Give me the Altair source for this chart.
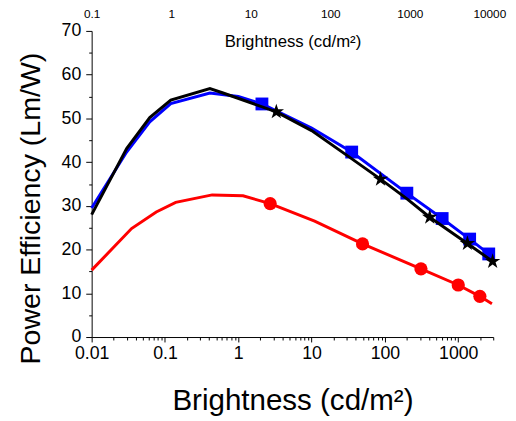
import altair as alt
import pandas as pd

# ---- data ----
blue_x = [0.01, 0.03, 0.062, 0.12, 0.41, 1.0, 2.1, 10, 35.2, 199, 603, 1430, 2605, 2950]
blue_y = [29.5, 42.3, 49.2, 53.4, 55.8, 55.0, 53.3, 47.8, 42.3, 32.9, 27.1, 22.4, 19.0, 18.3]
blue_mx = [2.1, 35.2, 199, 603, 1430, 2605]
blue_my = [53.3, 42.3, 32.9, 27.1, 22.4, 19.0]

black_x = [0.01, 0.03, 0.062, 0.12, 0.41, 0.62, 3.3, 10, 30, 87, 200, 408, 1333, 2944]
black_y = [28.0, 43.1, 50.2, 54.2, 56.8, 55.8, 51.5, 47.2, 41.6, 36.1, 31.6, 27.4, 21.4, 17.3]
black_mx = [3.3, 87, 408, 1333, 2944]
black_my = [51.5, 36.1, 27.4, 21.4, 17.3]

red_x = [0.01, 0.035, 0.076, 0.14, 0.44, 1.16, 2.72, 11, 49.5, 310, 1000, 1972, 2880]
red_y = [15.3, 24.8, 28.6, 30.8, 32.5, 32.3, 30.5, 26.5, 21.3, 15.6, 11.9, 9.3, 7.6]
red_mx = [2.72, 49.5, 310, 1000, 1972]
red_my = [30.5, 21.3, 15.6, 11.9, 9.3]

x_major = [0.01, 0.1, 1, 10, 100, 1000]
x_domain = [0.01, 3000]
y_domain = [0, 70]
y_ticks = list(range(0, 71, 5))
top_ticks = [0.1, 1, 10, 100, 1000, 10000]
top_domain = [0.1, 11200]

x_ticks = [m * k for m in x_major for k in range(1, 10) if m * k <= 3000 * 1.0000001]

FONT = "Liberation Sans"
STAR = ("M0,-1L0.2245,-0.309L0.951,-0.309L0.363,0.118L0.588,0.809L0,0.382"
        "L-0.588,0.809L-0.363,0.118L-0.951,-0.309L-0.2245,-0.309Z")

MAJ = "abs(log(datum.value)/LN10 - round(log(datum.value)/LN10)) < 1e-6"


def df(xs, ys):
    return pd.DataFrame({"x": xs, "y": ys})


x_enc = alt.X(
    "x:Q",
    scale=alt.Scale(type="log", domain=x_domain, nice=False),
    axis=alt.Axis(
        values=x_ticks, format="~g",
        labelExpr=f"({MAJ}) ? datum.label : ''",
        tickSize={"condition": {"test": MAJ, "value": 5}, "value": 3},
        labelFontSize=18, labelPadding=3, labelFlush=False, labelOverlap=False,
        title="Brightness (cd/m²)", titleFontSize=30, titleFontWeight="normal",
        titleY=74, titleBaseline="alphabetic", grid=False,
    ),
)
y_enc = alt.Y(
    "y:Q",
    scale=alt.Scale(domain=y_domain, nice=False, zero=False),
    axis=alt.Axis(
        values=y_ticks,
        labelExpr="datum.value % 10 === 0 ? datum.label : ''",
        tickSize={"condition": {"test": "datum.value % 10 === 0", "value": 6}, "value": 3},
        labelFontSize=18, labelPadding=5, labelOverlap=False, labelFlush=False,
        title="Power Efficiency (Lm/W)", titleFontSize=29, titleFontWeight="normal",
        titleAngle=-90, titleX=-53, titleY=180, titleAlign="center",
        titleBaseline="alphabetic", grid=False,
    ),
)


def line(xs, ys, color):
    return alt.Chart(df(xs, ys)).mark_line(
        color=color, strokeWidth=3, interpolate="linear"
    ).encode(x=x_enc, y=y_enc)


def pts(xs, ys, color, shape, size):
    return alt.Chart(df(xs, ys)).mark_point(
        filled=True, color=color, shape=shape, size=size, opacity=1
    ).encode(x=x_enc, y=y_enc)


main = alt.layer(
    line(red_x, red_y, "#ff0000"),
    pts(red_mx, red_my, "#ff0000", "circle", 180),
    line(blue_x, blue_y, "#0000ff"),
    pts(blue_mx, blue_my, "#0000ff", "square", 170),
    line(black_x, black_y, "#000000"),
    pts(black_mx, black_my, "#000000", STAR, 270),
)

top = alt.Chart(pd.DataFrame({"x": top_ticks})).mark_point(opacity=0).encode(
    x=alt.X(
        "x:Q",
        scale=alt.Scale(type="log", domain=top_domain, nice=False),
        axis=alt.Axis(
            orient="bottom", offset=-341, values=top_ticks, format="~g",
            domain=False, ticks=True, tickSize=5, labelPadding=2,
            labelFontSize=12, labelFlush=False, labelOverlap=False, grid=False,
            title="Brightness (cd/m²)", titleFontSize=17, titleFontWeight="normal",
            titleY=46, titleBaseline="alphabetic",
        ),
    )
)

chart = (
    alt.layer(main, top)
    .resolve_scale(x="independent")
    .properties(
        width=408, height=311,
        autosize=alt.AutoSizeParams(type="none"),
        padding={"left": 85, "top": 20, "right": 15, "bottom": 81},
        background="white",
    )
    .configure_view(stroke=None)
    .configure_axis(
        labelFont=FONT, titleFont=FONT, labelColor="black", titleColor="black",
        domainColor="black", tickColor="black", domainWidth=1, tickWidth=1,
    )
)

chart.save("out.html", embed_options={"renderer": "svg", "actions": False})
